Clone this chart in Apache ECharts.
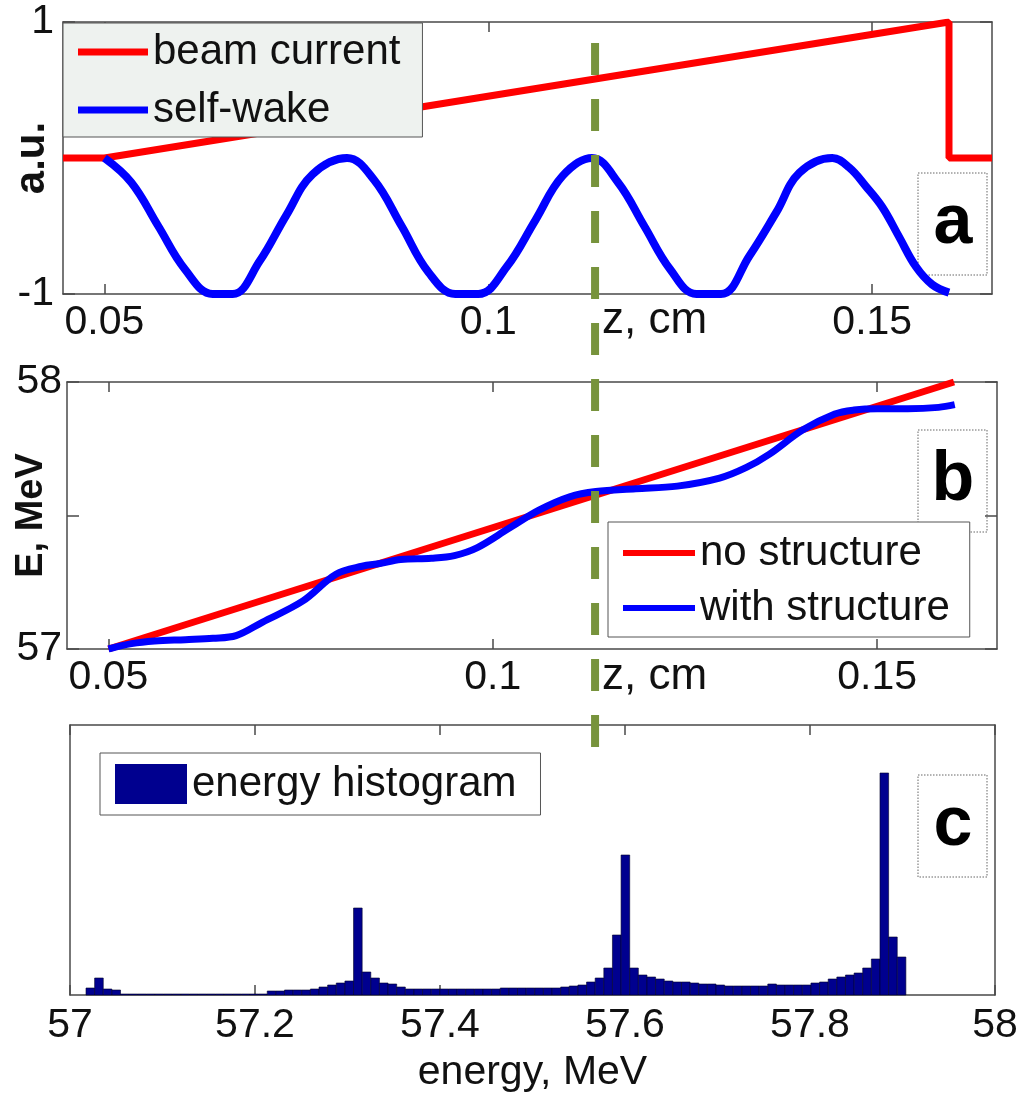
<!DOCTYPE html>
<html><head><meta charset="utf-8">
<script src="https://cdn.jsdelivr.net/npm/echarts@6/dist/echarts.min.js"></script>
<style>html,body{margin:0;padding:0;background:#fff}#c{width:1020px;height:1093px}</style>
</head><body><div id="c"></div>
<script>
// ---- panel a: beam current and self-wake vs z (cm) ----
const zBeam = [0.0446, 0.05, 0.16, 0.16, 0.1656];
const beamCurrent = [0, 0, 1, 0, 0];
const zWake = [0.0500, 0.0535, 0.0570, 0.0605, 0.0641, 0.0667, 0.0702, 0.0737, 0.0771, 0.0816,
               0.0851, 0.0887, 0.0922, 0.0957, 0.0987, 0.1024, 0.1061, 0.1097, 0.1135,
               0.1169, 0.1203, 0.1237, 0.1271, 0.1303, 0.1340, 0.1375, 0.1405, 0.1448,
               0.1470, 0.1492, 0.1513, 0.1535, 0.1557, 0.1578, 0.1600];
const selfWake = [0.00, -0.18, -0.50, -0.82, -1.00, -1.00, -0.76, -0.42, -0.12, 0.00,
                  -0.16, -0.50, -0.84, -1.00, -1.00, -0.80, -0.46, -0.13, 0.00,
                  -0.18, -0.50, -0.82, -1.00, -1.00, -0.72, -0.40, -0.11, 0.00,
                  -0.07, -0.21, -0.36, -0.58, -0.80, -0.93, -0.99];
// ---- panel b: energy vs z ----
const zNoStruct = [0.05, 0.16];
const eNoStruct = [57.0, 58.0];
const zWithStruct = [0.0500, 0.0530, 0.0560, 0.0600, 0.0636, 0.0666, 0.0700, 0.0753, 0.0796, 0.0830,
                     0.0853, 0.0880, 0.0920, 0.0950, 0.0980, 0.1020, 0.1060, 0.1100, 0.1134, 0.1186,
                     0.1240, 0.1295, 0.1330, 0.1360, 0.1403, 0.1445, 0.1470, 0.1500, 0.1540, 0.1580, 0.1601];
const eWithStruct = [57.00, 57.02, 57.03, 57.035, 57.04, 57.05, 57.10, 57.18, 57.28, 57.31,
                     57.32, 57.335, 57.34, 57.35, 57.38, 57.45, 57.52, 57.57, 57.59, 57.60,
                     57.61, 57.64, 57.68, 57.73, 57.82, 57.88, 57.895, 57.90, 57.90, 57.905, 57.915];
// ---- panel c: energy histogram ----
const binStart = 57.0173;   // MeV, left edge of first bin
const binWidth = 0.00933;   // MeV
const histCounts = [7, 17, 6, 5, 1, 1, 1, 1, 1, 1, 1, 1, 1, 1, 1, 1, 1, 1, 1, 1, 1,
                    4, 4, 5, 5, 5, 6, 8, 10, 12, 14, 87, 23, 17, 12, 11, 8,
                    6, 6, 6, 6, 6, 6, 6, 6, 6, 6, 6,
                    7, 7, 7, 7, 7, 7, 7, 8, 9, 10, 13, 17, 27, 60, 140, 27, 20, 18, 16, 14, 13, 13,
                    12, 11, 11, 10, 9, 9, 9, 9, 9, 11, 10, 10, 10, 10, 12, 13, 16, 18, 20, 22, 27, 36,
                    222, 58, 38];
const markZ = 0.1139;  // z of the dashed guide line
const zTicks = [0.05, 0.1, 0.15];
const eTicks = [57, 57.2, 57.4, 57.6, 57.8, 58];

const FONT = 'Liberation Sans, Arial, sans-serif';
const zip = (a, b) => a.map((v, i) => [v, b[i]]);
const histData = histCounts.map((c, i) => [binStart + i * binWidth, binStart + (i + 1) * binWidth, c]);

const AX = '#4a4a4a';
const lineCol = { color: AX, width: 1.5 };
const axLine = { show: true, onZero: false, lineStyle: lineCol };
function mirrorX(grid, min, max, ticks) {
  return { type: 'value', gridIndex: grid, position: 'top', min, max,
    axisLine: axLine,
    axisTick: { show: true, inside: true, length: 10, lineStyle: lineCol, customValues: ticks },
    axisLabel: { show: false }, splitLine: { show: false } };
}
function mirrorY(grid, min, max, ticks) {
  return { type: 'value', gridIndex: grid, position: 'right', min, max,
    axisLine: axLine,
    axisTick: { show: !!ticks, inside: true, length: 12, lineStyle: lineCol, customValues: ticks || [] },
    axisLabel: { show: false }, splitLine: { show: false } };
}
const labelStyle = { fontFamily: FONT, fontSize: 41, color: '#111' };
const gridBase = { containLabel: false, outerBoundsMode: 'none' };

const chart = echarts.init(document.getElementById('c'), null, { renderer: 'canvas' });
chart.setOption({
  backgroundColor: '#fff',
  animation: false,
  grid: [
    { ...gridBase, left: 63, top: 22, width: 929, height: 272 },
    { ...gridBase, left: 67, top: 382, width: 930, height: 267 },
    { ...gridBase, left: 70, top: 725, width: 925, height: 270 }
  ],
  xAxis: [
    { type: 'value', gridIndex: 0, min: 0.0446, max: 0.1656,
      axisLine: axLine,
      axisTick: { show: true, inside: true, length: 10, lineStyle: lineCol, customValues: zTicks },
      axisLabel: { ...labelStyle, margin: 8, customValues: zTicks, formatter: v => String(+v.toFixed(2)) },
      splitLine: { show: false } },
    mirrorX(0, 0.0446, 0.1656, zTicks),
    { type: 'value', gridIndex: 1, min: 0.0446, max: 0.1656,
      axisLine: axLine,
      axisTick: { show: true, inside: true, length: 10, lineStyle: lineCol, customValues: zTicks },
      axisLabel: { ...labelStyle, margin: 8, customValues: zTicks, formatter: v => String(+v.toFixed(2)) },
      splitLine: { show: false } },
    mirrorX(1, 0.0446, 0.1656, zTicks),
    { type: 'value', gridIndex: 2, min: 57, max: 58, interval: 0.2,
      axisLine: axLine,
      axisTick: { show: true, inside: true, length: 10, lineStyle: lineCol },
      axisLabel: { ...labelStyle, margin: 10, formatter: v => String(+v.toFixed(1)) },
      splitLine: { show: false },
      name: 'energy, MeV', nameLocation: 'middle', nameGap: 57, nameMoveOverlap: false,
      nameTextStyle: { fontFamily: FONT, fontSize: 41, color: '#111' } },
    mirrorX(2, 57, 58, eTicks)
  ],
  yAxis: [
    { type: 'value', gridIndex: 0, min: -1, max: 1,
      axisLine: axLine,
      axisTick: { show: true, inside: true, length: 12, lineStyle: lineCol, customValues: [-1, 1] },
      axisLabel: { ...labelStyle, margin: 9, customValues: [-1, 1] },
      splitLine: { show: false },
      name: 'a.u.', nameLocation: 'middle', nameGap: 10, nameRotate: 90, nameMoveOverlap: false,
      nameTextStyle: { fontFamily: FONT, fontSize: 42, fontWeight: 'bold', color: '#111' } },
    mirrorY(0, -1, 1, [-1, 1]),
    { type: 'value', gridIndex: 1, min: 57, max: 58,
      axisLine: axLine,
      axisTick: { show: true, inside: true, length: 12, lineStyle: lineCol, customValues: [57, 57.5, 58] },
      axisLabel: { ...labelStyle, margin: 5, customValues: [57, 58] },
      splitLine: { show: false },
      name: 'E, MeV', nameLocation: 'middle', nameGap: 16, nameRotate: 90, nameMoveOverlap: false,
      nameTextStyle: { fontFamily: FONT, fontSize: 38, fontWeight: 'bold', color: '#111' } },
    mirrorY(1, 57, 58, [57, 57.5, 58]),
    { type: 'value', gridIndex: 2, min: 0, max: 270,
      axisLine: axLine,
      axisTick: { show: false }, axisLabel: { show: false }, splitLine: { show: false } },
    mirrorY(2, 0, 270, null)
  ],
  legend: [
    { data: ['beam current', 'self-wake'], orient: 'vertical', left: 63, top: 23,
      icon: 'rect', itemWidth: 70, itemHeight: 7, itemGap: 16, itemTextGap: 11,
      padding: [8, 22, 6, 15], backgroundColor: '#eef2ef', borderColor: '#555', borderWidth: 1,
      borderRadius: 0, selectedMode: false,
      textStyle: { fontFamily: FONT, fontSize: 42, color: '#111' } },
    { data: ['no structure', 'with structure'], orient: 'vertical', left: 608, top: 522,
      icon: 'rect', itemWidth: 72, itemHeight: 6, itemGap: 13, itemTextGap: 8,
      padding: [10, 20, 8, 15], backgroundColor: '#fff', borderColor: '#555', borderWidth: 1,
      borderRadius: 0, selectedMode: false,
      textStyle: { fontFamily: FONT, fontSize: 42, color: '#111' } },
    { data: [{ name: 'energy histogram', icon: 'rect', itemStyle: { color: '#00008f' } }],
      orient: 'vertical', left: 100, top: 753,
      itemWidth: 72, itemHeight: 40, itemTextGap: 6,
      padding: [10, 24, 10, 15], backgroundColor: '#fff', borderColor: '#555', borderWidth: 1,
      borderRadius: 0, selectedMode: false,
      textStyle: { fontFamily: FONT, fontSize: 42, color: '#111' } }
  ],
  series: [
    { name: 'beam current', type: 'line', xAxisIndex: 0, yAxisIndex: 0, data: zip(zBeam, beamCurrent),
      showSymbol: false, lineStyle: { color: '#ff0000', width: 7 }, itemStyle: { color: '#ff0000' }, z: 2 },
    { name: 'self-wake', type: 'line', xAxisIndex: 0, yAxisIndex: 0, data: zip(zWake, selfWake),
      showSymbol: false, smooth: 0.4, lineStyle: { color: '#0000ff', width: 8 }, itemStyle: { color: '#0000ff' }, z: 3 },
    { name: 'no structure', type: 'line', xAxisIndex: 2, yAxisIndex: 2, data: zip(zNoStruct, eNoStruct),
      showSymbol: false, lineStyle: { color: '#ff0000', width: 7 }, itemStyle: { color: '#ff0000' }, z: 2 },
    { name: 'with structure', type: 'line', xAxisIndex: 2, yAxisIndex: 2, data: zip(zWithStruct, eWithStruct),
      showSymbol: false, smooth: 0.35, lineStyle: { color: '#0000ff', width: 7 }, itemStyle: { color: '#0000ff' }, z: 3 },
    { name: 'energy histogram', type: 'custom', xAxisIndex: 4, yAxisIndex: 4, data: histData,
      itemStyle: { color: '#00008f' },
      renderItem: function (params, api) {
        const p0 = api.coord([api.value(0), api.value(2)]);
        const p1 = api.coord([api.value(1), 0]);
        return { type: 'rect', shape: { x: p0[0], y: p0[1], width: p1[0] - p0[0], height: p1[1] - p0[1] },
          style: { fill: '#00008f', stroke: '#00002a', lineWidth: 0.6 } };
      } }
  ]
});

// guide line and panel tags
const gx = chart.convertToPixel({ xAxisIndex: 0 }, markZ);
function tag(x, y, letter) {
  return { type: 'group', z: 50, children: [
    { type: 'rect', shape: { x: x, y: y, width: 69, height: 102 },
      style: { fill: 'rgba(255,255,255,0.6)', stroke: '#666', lineWidth: 1, lineDash: [1.5, 1.5] } },
    { type: 'text', style: { text: letter, x: x + 35, y: y + 51, align: 'center', verticalAlign: 'middle',
      fontFamily: FONT, fontSize: 70, fontWeight: 'bold', fill: '#000' } }
  ] };
}
chart.setOption({
  graphic: [
    { type: 'text', z: 40, style: { text: 'z, cm', x: 602, y: 321, verticalAlign: 'middle',
      fontFamily: FONT, fontSize: 44, fill: '#111' } },
    { type: 'text', z: 40, style: { text: 'z, cm', x: 602, y: 677, verticalAlign: 'middle',
      fontFamily: FONT, fontSize: 44, fill: '#111' } },
    tag(918, 173, 'a'), tag(918, 430, 'b'), tag(918, 775, 'c'),
    { type: 'line', z: 60, shape: { x1: gx, y1: 43, x2: gx, y2: 747 },
      style: { stroke: '#77933c', lineWidth: 8, lineDash: [32, 24] } }
  ]
});
</script></body></html>
